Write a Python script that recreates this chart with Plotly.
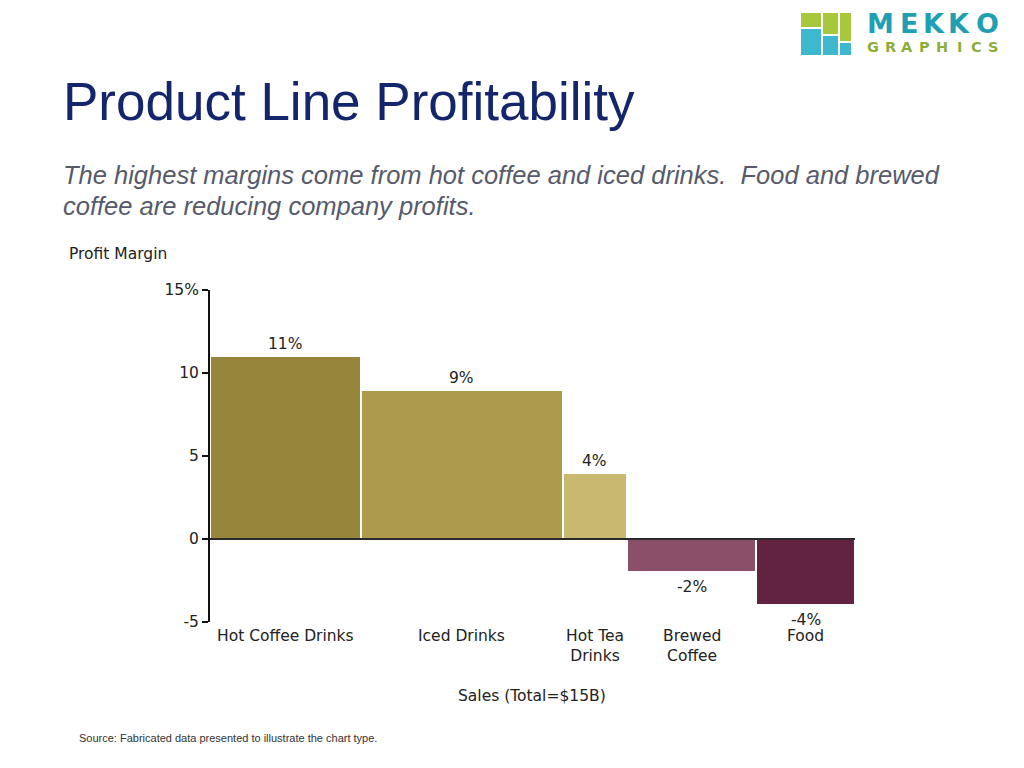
import plotly.graph_objects as go

# ---- data ----
categories = ["Hot Coffee Drinks", "Iced Drinks", "Hot Tea<br>Drinks", "Brewed<br>Coffee", "Food"]
sales_b = [3.5, 4.7, 1.5, 3.0, 2.3]          # $B, total 15
profit_margin = [11, 9, 4, -2, -4]            # %
bar_colors = ["#97853B", "#AD9A4B", "#C9B970", "#8B5069", "#622341"]
y_tick_vals = [-5, 0, 5, 10, 15]
y_tick_text = ["-5", "0", "5", "10", "15%"]

OFF = 8                      # page body margin
W, H = 1024 - OFF, 768 - OFF
def px(x):
    return (x - OFF) / W
def py(y):
    return 1 - (y - OFF) / H

# cumulative positions
lefts = []
acc = 0
for s in sales_b:
    lefts.append(acc)
    acc += s
centers = [l + s / 2 for l, s in zip(lefts, sales_b)]
total = acc

fig = go.Figure()
fig.add_trace(go.Bar(
    x=centers, y=profit_margin, width=sales_b,
    marker=dict(color=bar_colors, line=dict(color="white", width=2)),
    hoverinfo="skip", showlegend=False,
))

ann = []
FONT = "DejaVu Sans"
FS = 15.5
# value labels
for c, v in zip(centers, profit_margin):
    ann.append(dict(x=c, y=v, xref="x", yref="y", text=f"{v:.0f}%", showarrow=False,
                    xanchor="center", yanchor="bottom" if v >= 0 else "top", yshift=1 if v >= 0 else -4,
                    font=dict(family=FONT, size=FS, color="#222")))
# category labels
for c, name in zip(centers, categories):
    ann.append(dict(x=c, y=py(625), xref="x", yref="paper", text=name, showarrow=False,
                    xanchor="center", yanchor="top", align="center",
                    font=dict(family=FONT, size=FS, color="#222")))
# axis titles
ann.append(dict(x=px(532), y=py(696), xref="paper", yref="paper", text="Sales (Total=$15B)",
                xanchor="center", yanchor="middle",
                showarrow=False, font=dict(family=FONT, size=FS, color="#222")))
ann.append(dict(x=px(67), y=py(254), xref="paper", yref="paper", text="Profit Margin",
                xanchor="left", yanchor="middle",
                showarrow=False, font=dict(family=FONT, size=FS, color="#222")))
# title & subtitle
ann.append(dict(x=px(61), y=py(101), xref="paper", yref="paper", text="Product Line Profitability",
                xanchor="left", yanchor="middle", showarrow=False,
                font=dict(family="Liberation Sans", size=53, color="#13256B")))
ann.append(dict(x=px(61), y=py(175), xref="paper", yref="paper",
                text="<i>The highest margins come from hot coffee and iced drinks.&nbsp; Food and brewed</i>",
                xanchor="left", yanchor="middle", showarrow=False,
                font=dict(family="Liberation Sans", size=25.5, color="#565A6B")))
ann.append(dict(x=px(61), y=py(206), xref="paper", yref="paper",
                text="<i>coffee are reducing company profits.</i>",
                xanchor="left", yanchor="middle", showarrow=False,
                font=dict(family="Liberation Sans", size=25.5, color="#565A6B")))
# source
ann.append(dict(x=px(77), y=py(738), xref="paper", yref="paper",
                text="Source: Fabricated data presented to illustrate the chart type.",
                xanchor="left", yanchor="middle", showarrow=False,
                font=dict(family="Liberation Sans", size=11, color="#333")))
# logo text
logo_letters = ["M", "E", "K", "K", "O"]
logo_x = [880, 909, 934, 959, 987]
for ch, x in zip(logo_letters, logo_x):
    ann.append(dict(x=px(x), y=py(23), xref="paper", yref="paper", text=f"<b>{ch}</b>",
                    xanchor="center", yanchor="middle", borderpad=0,
                    showarrow=False, font=dict(family="DejaVu Sans", size=27, color="#1FA0B2")))
graphics = list("GRAPHICS")
for i, ch in enumerate(graphics):
    ann.append(dict(x=px(873 + 17.2 * i), y=py(47), xref="paper", yref="paper", text=f"<b>{ch}</b>",
                    xanchor="center", yanchor="middle", borderpad=0,
                    showarrow=False, font=dict(family="DejaVu Sans", size=14.5, color="#8EAD3C")))

shapes = []
# zero line
shapes.append(dict(type="line", xref="x domain", yref="y", x0=0, x1=1, y0=0, y1=0,
                   line=dict(color="#2a2a2a", width=2), layer="above"))
# logo tiles
GREEN, TEAL = "#A7C83C", "#3DB8CF"
tiles = [
    (801, 13, 821, 27, GREEN), (801, 29, 821, 55, TEAL),
    (823, 13, 838, 34, GREEN), (823, 36, 838, 55, TEAL),
    (840, 13, 851, 41, GREEN), (840, 43, 851, 55, TEAL),
]
for x0, y0, x1, y1, col in tiles:
    shapes.append(dict(type="rect", xref="paper", yref="paper", x0=px(x0), x1=px(x1),
                       y0=py(y1), y1=py(y0), fillcolor=col, line=dict(width=0)))

fig.update_layout(
    width=W, height=H, margin=dict(l=0, r=0, t=0, b=0),
    paper_bgcolor="white", plot_bgcolor="white",
    annotations=ann, shapes=shapes, bargap=0,
    xaxis=dict(domain=[px(210), px(855)], range=[0, total], showticklabels=False,
               showgrid=False, zeroline=False, showline=False, fixedrange=True),
    yaxis=dict(domain=[py(622), py(290)], range=[-5, 15], tickvals=y_tick_vals, ticktext=y_tick_text,
               showgrid=False, zeroline=False, showline=True, linecolor="#111", linewidth=2,
               ticks="outside", ticklen=6, tickwidth=2, tickcolor="#111",
               tickfont=dict(family=FONT, size=FS, color="#222"), automargin=False, fixedrange=True),
)

fig.write_html("out.html")
